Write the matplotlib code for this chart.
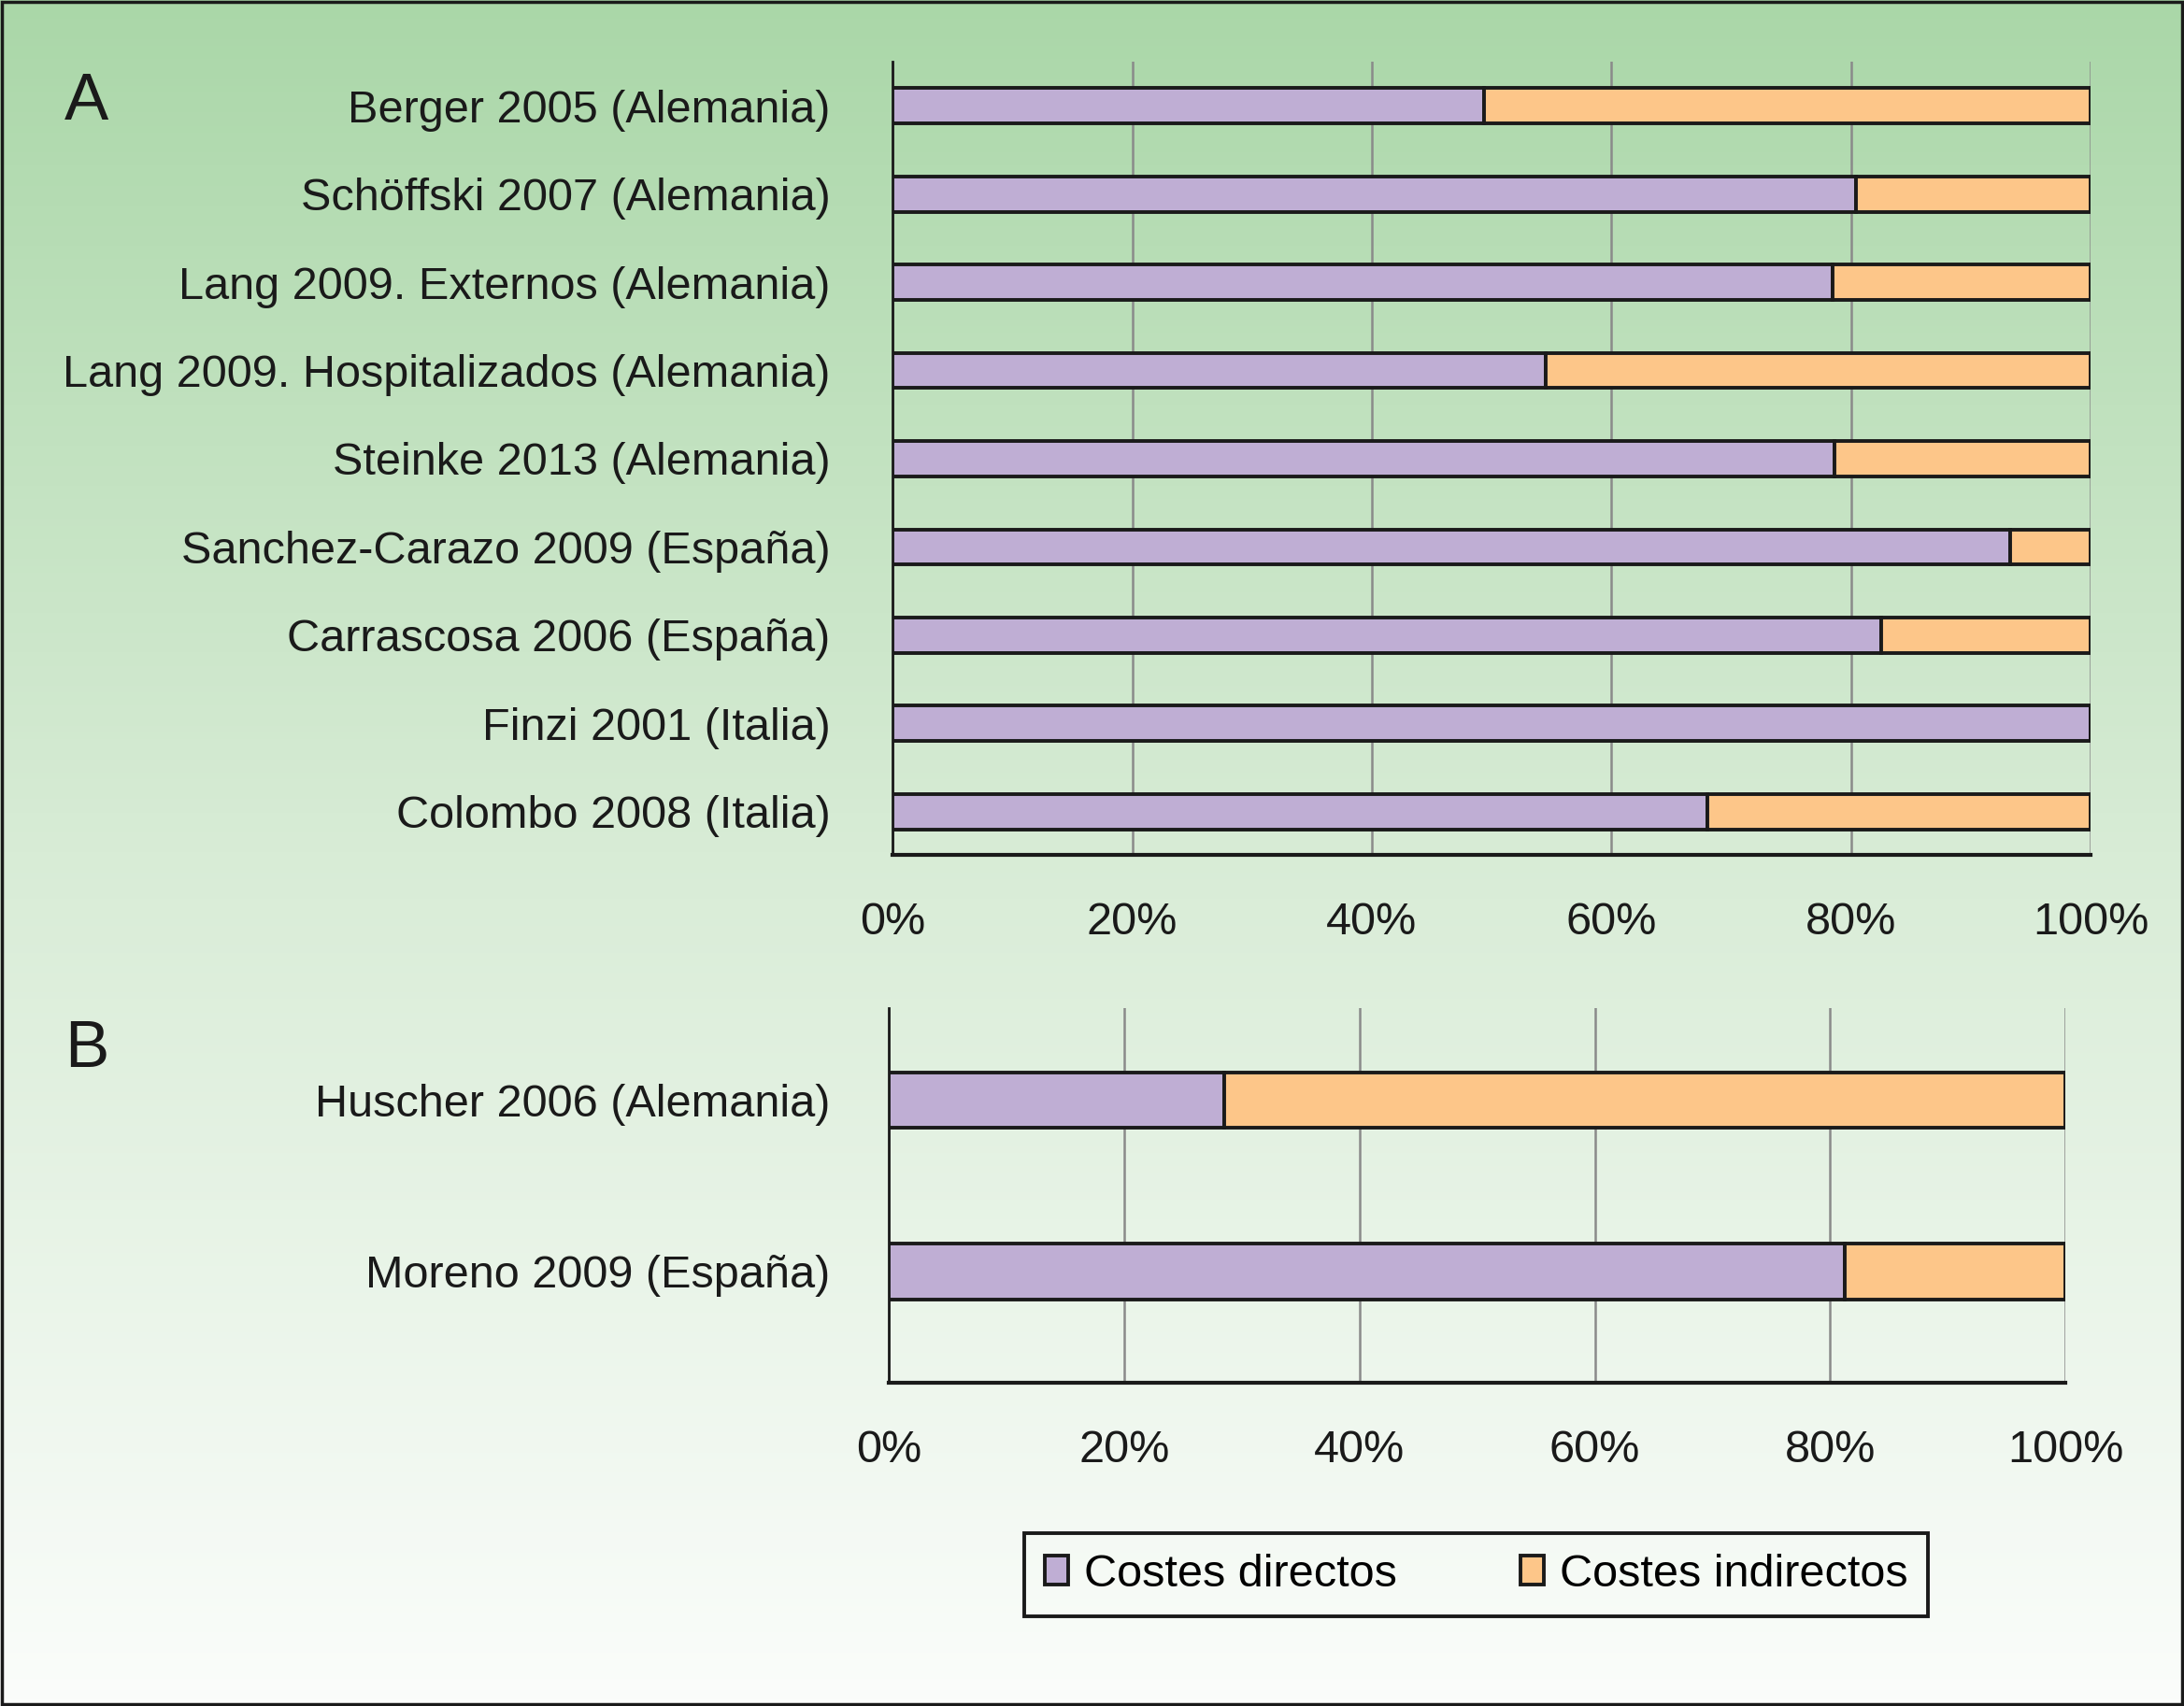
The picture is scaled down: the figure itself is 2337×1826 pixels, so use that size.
import matplotlib
matplotlib.use("Agg")
import matplotlib.pyplot as plt
import numpy as np
from matplotlib.colors import LinearSegmentedColormap
from matplotlib.patches import Rectangle

plt.rcParams["font.family"] = ["Liberation Sans", "DejaVu Sans"]

studies_a = [
    "Berger 2005 (Alemania)",
    "Schöffski 2007 (Alemania)",
    "Lang 2009. Externos (Alemania)",
    "Lang 2009. Hospitalizados (Alemania)",
    "Steinke 2013 (Alemania)",
    "Sanchez-Carazo 2009 (España)",
    "Carrascosa 2006 (España)",
    "Finzi 2001 (Italia)",
    "Colombo 2008 (Italia)",
]
directos_a = [49.4, 80.4, 78.5, 54.5, 78.6, 93.3, 82.5, 100.0, 68.0]
indirectos_a = [50.6, 19.6, 21.5, 45.5, 21.4, 6.7, 17.5, 0.0, 32.0]

studies_b = ["Huscher 2006 (Alemania)", "Moreno 2009 (España)"]
directos_b = [28.5, 81.2]
indirectos_b = [71.5, 18.8]

x_ticks = [0, 20, 40, 60, 80, 100]
x_ticklabels = ["0%", "20%", "40%", "60%", "80%", "100%"]

PURPLE = "#bfaed4"
ORANGE = "#fdc689"
INK = "#1a1a1a"
FS = 35

fig = plt.figure(figsize=(23.37, 18.26), dpi=100)

# background gradient
bg = fig.add_axes([0, 0, 1, 1], zorder=-10)
cmap = LinearSegmentedColormap.from_list("bg", ["#aad7a8", "#d8ecd6", "#fbfdfb"])
bg.imshow(np.linspace(0, 1, 256).reshape(-1, 1), cmap=cmap, aspect="auto",
          extent=[0, 1, 0, 1])
bg.set_axis_off()


def draw_panel(ax, studies, directos, indirectos, height, ylim, label_pad):
    ypos = np.arange(len(studies))
    ax.barh(ypos, directos, height=height, color=PURPLE, edgecolor=INK,
            linewidth=2.8, label="Costes directos", zorder=3)
    ax.barh(ypos, indirectos, left=directos, height=height, color=ORANGE,
            edgecolor=INK, linewidth=2.8, label="Costes indirectos", zorder=3)
    ax.set_xlim(0, 100)
    ax.set_ylim(*ylim)
    ax.set_yticks(ypos)
    ax.set_yticklabels(studies, fontsize=FS, color=INK)
    ax.set_xticks(x_ticks)
    ax.set_xticklabels(x_ticklabels, fontsize=FS, color=INK)
    ax.tick_params(axis="y", length=0, pad=label_pad)
    ax.tick_params(axis="x", length=0, pad=36)
    ax.grid(axis="x", color="#8a8a8a", linewidth=1.8, zorder=0)
    ax.set_facecolor("none")
    for s in ["top", "right"]:
        ax.spines[s].set_visible(False)
    ax.spines["left"].set_linewidth(2.0)
    ax.spines["left"].set_color(INK)
    ax.spines["bottom"].set_linewidth(3.0)
    ax.spines["bottom"].set_color(INK)


ax_a = fig.add_axes([0.4087, 0.4989, 0.5485, 0.4652])
draw_panel(ax_a, studies_a, directos_a, indirectos_a, 0.40, (8.49, -0.505), 48)

ax_b = fig.add_axes([0.4069, 0.1895, 0.5389, 0.2195])
draw_panel(ax_b, studies_b, directos_b, indirectos_b, 0.325, (1.65, -0.537), 45)

fig.text(0.0294, 0.930, "A", fontsize=51, color=INK, va="baseline")
fig.text(0.0294, 0.3746, "B", fontsize=51, color=INK, va="baseline")

handles, labels = ax_a.get_legend_handles_labels()
leg = fig.legend(handles, labels, loc="center", bbox_to_anchor=(0.676, 0.077),
                 ncol=2, fontsize=FS, frameon=True, fancybox=False,
                 edgecolor=INK, facecolor="none",
                 handlelength=0.52, handleheight=0.6, handletextpad=0.35,
                 columnspacing=2.7, borderpad=0.45)
leg.get_frame().set_linewidth(2.8)
leg.get_frame().set_alpha(1)
leg.get_frame().set_facecolor("none")

# figure border
fig.patches.append(Rectangle((0.001, 0.001), 0.998, 0.998, transform=fig.transFigure,
                             fill=False, edgecolor=INK, linewidth=2.5))

fig.savefig("out.png", dpi=100)
